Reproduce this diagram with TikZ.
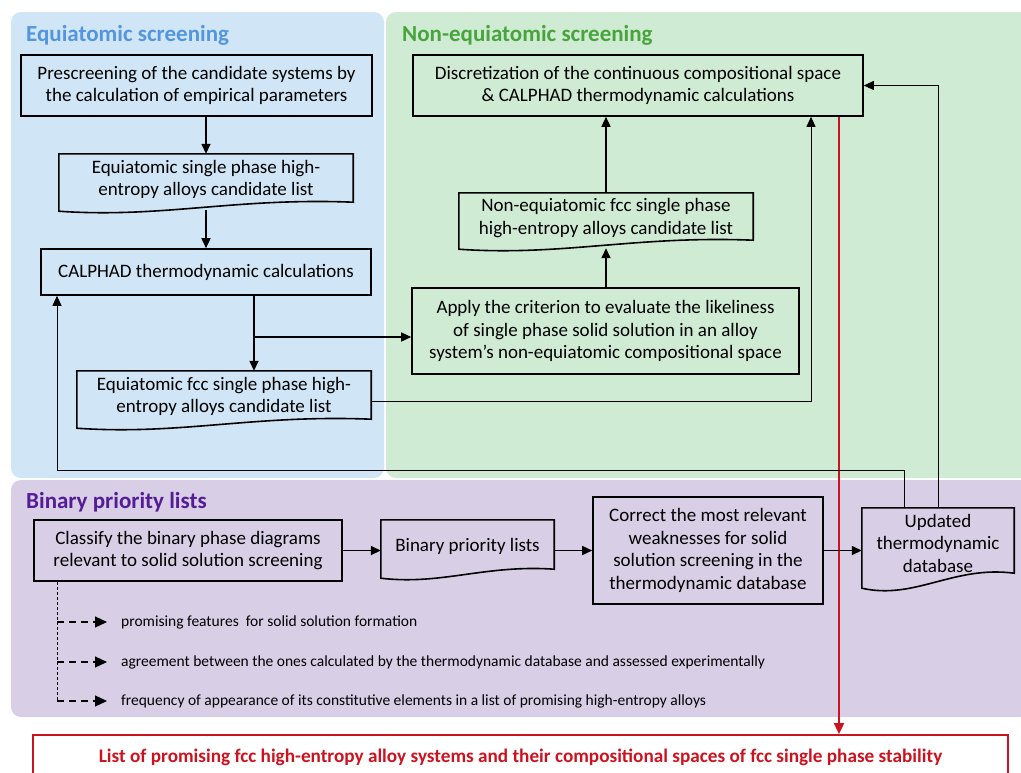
\documentclass[tikz,border=0pt]{standalone}
\usepackage{fontspec}
\setmainfont{Carlito}
\usetikzlibrary{arrows.meta,calc}

\definecolor{equibg}{RGB}{208,230,246}
\definecolor{nonequibg}{RGB}{207,235,212}
\definecolor{binarybg}{RGB}{216,206,230}
\definecolor{equititle}{RGB}{84,150,222}
\definecolor{nonequititle}{RGB}{72,164,60}
\definecolor{binarytitle}{RGB}{84,28,150}
\definecolor{resultred}{RGB}{204,18,30}

\tikzset{
  boxline/.style={draw=black, line width=1.6pt},
  stepbox/.style={boxline, align=center, inner sep=0pt, font=\fontsize{19}{22.5}\selectfont},
  listbox/.style={align=center, inner sep=0pt, font=\fontsize{19}{22.5}\selectfont},
  paneltitle/.style={anchor=base west, inner sep=0pt, font=\bfseries\fontsize{23}{26}\selectfont},
  flow/.style={line width=1.5pt, -{Triangle[length=10pt,width=9pt]}},
  thinflow/.style={line width=1pt, -{Triangle[length=10pt,width=9pt]}},
  redflow/.style={draw=resultred, line width=1.8pt, -{Triangle[length=11pt,width=10pt]}},
  critline/.style={line width=0.8pt, dash pattern=on 3pt off 2pt},
  critarrow/.style={line width=1.2pt, dash pattern=on 7pt off 5pt, -{Triangle[length=12pt,width=11pt]}},
  crittext/.style={anchor=west, inner sep=0pt, font=\fontsize{15.5}{18}\selectfont}
}

% document shape: wavy lower edge below the node
\newcommand{\wavelist}[2]{%
  \draw[boxline] ([yshift=-#2]#1.south west) -- (#1.north west) -- (#1.north east)
    -- ([yshift=0.5*#2]#1.south east)
    .. controls ($(#1.south east)!0.4!(#1.south west)+(0,1.3*#2)$)
       and ($(#1.south west)!0.35!(#1.south east)+(0,-2.2*#2)$)
    .. ([yshift=-#2]#1.south west) -- cycle;}

\begin{document}
\begin{tikzpicture}[x=1pt,y=-1pt]
  \useasboundingbox (0,0) rectangle (1021,772);

  % panels
  \fill[equibg, rounded corners=10pt] (11,12) rectangle (384,478);
  \fill[nonequibg, rounded corners=10pt] (386,12) rectangle (1040,478);
  \fill[binarybg, rounded corners=10pt] (11,480) rectangle (1040,717);

  \node[paneltitle, text=equititle] (equihead) at (26,41) {Equiatomic screening};
  \node[paneltitle, text=nonequititle] (nonequihead) at (402,41) {Non-equiatomic screening};
  \node[paneltitle, text=binarytitle] (binaryhead) at (26,508) {Binary priority lists};

  % equiatomic screening
  \node[stepbox, minimum width=351pt, minimum height=61pt] (prescreen) at (196.5,85.5)
    {Prescreening of the candidate systems by\\the calculation of empirical parameters};
  \node[listbox, minimum width=294pt, minimum height=51pt] (eqlist) at (206,179.5)
    {Equiatomic single phase high-\\entropy alloys candidate list};
  \wavelist{eqlist}{6pt}
  \node[stepbox, minimum width=330pt, minimum height=46pt] (calphad) at (206,272)
    {CALPHAD thermodynamic calculations};
  \node[listbox, minimum width=294pt, minimum height=51pt] (eqfcc) at (224,396.5)
    {Equiatomic fcc single phase high-\\entropy alloys candidate list};
  \wavelist{eqfcc}{6pt}

  % non-equiatomic screening
  \node[stepbox, minimum width=450pt, minimum height=61pt] (discrete) at (638,85.5)
    {Discretization of the continuous compositional space\\\& CALPHAD thermodynamic calculations};
  \node[listbox, minimum width=294pt, minimum height=50pt] (neqlist) at (606,218)
    {Non-equiatomic fcc single phase\\high-entropy alloys candidate list};
  \wavelist{neqlist}{6pt}
  \node[stepbox, minimum width=387pt, minimum height=86pt] (criterion) at (605.5,331)
    {Apply the criterion to evaluate the likeliness\\of single phase solid solution in an alloy\\system's non-equiatomic compositional space};

  % binary priority lists
  \node[stepbox, minimum width=308pt, minimum height=61pt] (classify) at (188,550.5)
    {Classify the binary phase diagrams\\relevant to solid solution screening};
  \node[listbox, minimum width=173pt, minimum height=52pt] (binlist) at (467.5,546)
    {Binary priority lists};
  \wavelist{binlist}{6pt}
  \node[stepbox, minimum width=230pt, minimum height=107pt] (correct) at (708,550.5)
    {Correct the most relevant\\weaknesses for solid\\solution screening in the\\thermodynamic database};
  \node[listbox, minimum width=152pt, minimum height=70pt] (updated) at (938,543)
    {Updated\\thermodynamic\\database};
  \wavelist{updated}{10pt}

  \node[crittext] (crit1) at (121,622) {promising features\ \ for solid solution formation};
  \node[crittext] (crit2) at (121,662) {agreement between the ones calculated by the thermodynamic database and assessed experimentally};
  \node[crittext] (crit3) at (121,701) {frequency of appearance of its constitutive elements in a list of promising high-entropy alloys};

  % result
  \node[draw=resultred, line width=1.8pt, minimum width=975pt, minimum height=44pt,
        text=resultred, font=\bfseries\fontsize{19.2}{22}\selectfont, inner sep=0pt] (result) at (520.5,757)
    {List of promising fcc high-entropy alloy systems and their compositional spaces of fcc single phase stability};

  % connectors
  \coordinate (split) at (254,337);
  \coordinate (side) at (811,401);
  \coordinate (back) at (57,470);
  \coordinate (redx) at (839,735);
  \coordinate (critx) at (57,701);

  \draw[flow] (prescreen.south -| eqlist.north) -- (eqlist.north);
  \draw[flow] ([yshift=-5pt]eqlist.south) -- (calphad.north);
  \draw[flow] (calphad.south -| split) -- (eqfcc.north -| split);
  \draw[flow] (split) -- (criterion.west |- split);
  \draw[flow] (criterion.north -| neqlist.south) -- ([yshift=-5pt]neqlist.south);
  \draw[flow] (neqlist.north) -- (neqlist.north |- discrete.south);
  \draw[thinflow] (eqfcc.east |- side) -- (side) -- (side |- discrete.south);
  \draw[redflow] (redx |- discrete.south) -- (redx |- result.north);
  \draw[thinflow] (updated.north) |- (discrete.east);
  \draw[thinflow] ([xshift=-34pt]updated.north) |- (back) -- (back |- calphad.south);

  \draw[flow] (classify.east) -- (classify.east -| binlist.west);
  \draw[flow] (binlist.east |- correct.west) -- (correct.west);
  \draw[flow] (correct.east) -- (correct.east -| updated.west);

  \draw[critline] (classify.south -| critx) -- (critx);
  \foreach \i in {1,2,3}
    \draw[critarrow] (critx |- crit\i.west) -- ([xshift=-14pt]crit\i.west);
\end{tikzpicture}
\end{document}
